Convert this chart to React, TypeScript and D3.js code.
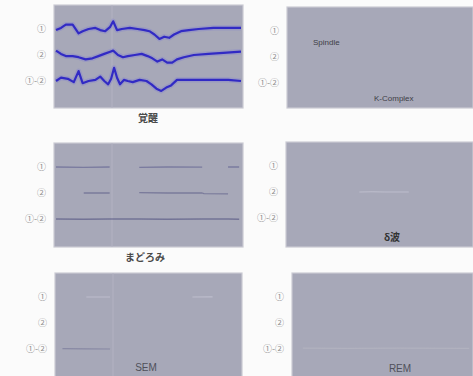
import React from 'react';
import * as d3 from 'd3';

// lane labels (electrode derivations)
const lanes = ['①', '②', '①-②'];

// panel titles / notes
const titles = ['覚醒', 'まどろみ', 'δ波', 'SEM', 'REM'];

// time (s) and amplitude (µV)
const awakeT1 = [0, 0.27, 0.53, 0.9, 1.22, 1.44, 1.76, 2.13, 2.39, 2.66, 2.93, 3.09, 3.3, 3.56, 3.99, 4.41, 4.79, 5.05, 5.32, 5.59, 5.85, 6.12, 6.38, 6.76, 7.18, 7.71, 8.51, 9.31, 10];
const awakeV1 = [-5, 5, 20, 20, -20, -10, 0, 5, -5, -10, 10, 35, -5, 0, 5, 0, -5, -10, -25, -45, -35, -40, -25, -10, -5, 0, 5, 5, 5];

const awakeT2 = [0, 0.27, 0.53, 0.9, 1.22, 1.6, 1.97, 2.29, 2.61, 2.93, 3.09, 3.35, 3.62, 3.88, 4.26, 4.63, 4.95, 5.21, 5.48, 5.74, 6.01, 6.28, 6.54, 6.91, 7.45, 8.24, 9.04, 10];
const awakeV2 = [20, 5, -5, -5, -10, -20, -15, -5, 5, 15, 20, 0, -10, -5, 0, 5, -5, -15, -30, -20, -35, -35, -20, -10, 0, 5, 10, 15];

const awakeT3 = [0, 0.27, 0.64, 0.96, 1.22, 1.44, 1.76, 2.13, 2.39, 2.61, 2.82, 2.98, 3.14, 3.3, 3.46, 3.67, 3.88, 4.15, 4.52, 4.89, 5.16, 5.43, 5.69, 5.96, 6.22, 6.54, 7.18, 8.24, 9.31, 10];
const awakeV3 = [0, 15, 10, -5, 45, -10, 0, 5, 20, 0, -15, 10, 60, 15, -15, 5, 0, -5, 5, 0, -15, -35, -45, -30, -20, 5, 5, 5, 5, 0];

// drowsy panel: nearly flat traces with gaps (null = not visible)
const drowsyT = [0, 1.5, 2.9, 3.0, 4.5, 6.0, 7.9, 8.0, 9.3, 9.9];
const drowsyV1 = [0, -2, 0, null, -2, 0, -1, null, 0, 0];
const drowsyV2 = [null, 0, 0, null, 2, 0, 0, -3, -4, null];
const drowsyV3 = [0, -1, 0, 0, 0, -1, 0, 0, 0, -1];

// delta panel: faint fragment on lane ②
const deltaT = [3.9, 4.6, 5.3, 6.6];
const deltaV = [0, 1, 0, 0];

// SEM panel: faint fragments
const semT = [0.3, 1.6, 2.9, 3.0, 7.4, 8.5];
const semV1 = [null, 0, 0, null, 0, 1];
const semV3 = [2, 1, 0, null, null, null];

// REM panel: faint fragment on lane ①-②
const remT = [0.5, 3, 6, 9.9];
const remV3 = [4, 3, 4, 3];

type Trace = { t: number[]; v: (number | null)[]; lane: string; color: string; width: number; opacity: number };
type Panel = { x: number; y: number; w: number; h: number; traces: Trace[]; seam?: boolean };

const W = 473;
const H = 376;

const panels: Panel[] = [
  {
    x: 54, y: 5, w: 189, h: 103, seam: true,
    traces: [
      { t: awakeT1, v: awakeV1, lane: lanes[0], color: '#2b24c4', width: 2.2, opacity: 0.95 },
      { t: awakeT2, v: awakeV2, lane: lanes[1], color: '#2b24c4', width: 2.2, opacity: 0.95 },
      { t: awakeT3, v: awakeV3, lane: lanes[2], color: '#2b24c4', width: 2.2, opacity: 0.95 },
    ],
  },
  { x: 287, y: 7, w: 186, h: 101, traces: [] },
  {
    x: 54, y: 143, w: 189, h: 104, seam: true,
    traces: [
      { t: drowsyT, v: drowsyV1, lane: lanes[0], color: '#56568a', width: 1.3, opacity: 0.55 },
      { t: drowsyT, v: drowsyV2, lane: lanes[1], color: '#565684', width: 1.3, opacity: 0.55 },
      { t: drowsyT, v: drowsyV3, lane: lanes[2], color: '#50507e', width: 1.5, opacity: 0.6 },
    ],
  },
  {
    x: 286, y: 142, w: 187, h: 105,
    traces: [{ t: deltaT, v: deltaV, lane: lanes[1], color: '#c8c8d6', width: 1, opacity: 0.7 }],
  },
  {
    x: 55, y: 273, w: 187, h: 110, seam: true,
    traces: [
      { t: semT, v: semV1, lane: lanes[0], color: '#c8c8d6', width: 1.2, opacity: 0.7 },
      { t: semT, v: semV3, lane: lanes[2], color: '#6a6a90', width: 1.2, opacity: 0.5 },
    ],
  },
  {
    x: 292, y: 273, w: 181, h: 110,
    traces: [{ t: remT, v: remV3, lane: lanes[2], color: '#bcbcc6', width: 1, opacity: 0.6 }],
  },
];

const ampScale = d3.scaleLinear().domain([-50, 50]).range([11, -11]);

const cjk = '"Noto Sans CJK JP", "Noto Sans", sans-serif';

const PanelView = ({ p }: { p: Panel }) => {
  const x = d3.scaleLinear().domain([0, 10]).range([p.x + 2, p.x + p.w - 2]);
  const y = d3.scalePoint<string>().domain(lanes).range([p.y + 24, p.y + 76]);
  const labelX = p.x - 8;
  return (
    <g>
      <rect x={p.x} y={p.y} width={p.w} height={p.h} fill="#a7a8b8" stroke="#cacad3" strokeWidth={1.2} />
      {p.seam && (
        <line x1={p.x + 58} x2={p.x + 58} y1={p.y} y2={p.y + p.h} stroke="#b4b5c4" strokeWidth={1.5} opacity={0.6} />
      )}
      {lanes.map(l => (
        <text key={l} x={labelX} y={(y(l) ?? 0) + 3} textAnchor="end" fontSize={9} fill="#8e8e8e" fontFamily={cjk}>
          {l}
        </text>
      ))}
      {p.traces.map((tr, i) => {
        const base = y(tr.lane) ?? 0;
        const pts = tr.t.map((t, k) => [t, tr.v[k]] as [number, number | null]);
        const line = d3.line<[number, number | null]>()
          .defined(d => d[1] !== null)
          .x(d => x(d[0]))
          .y(d => base + ampScale(d[1] as number))
          .curve(d3.curveLinear);
        const d = line(pts) ?? '';
        return (
          <g key={i}>
            {tr.width > 2 && <path d={d} fill="none" stroke="#7b78d8" strokeWidth={tr.width + 3} opacity={0.3} strokeLinejoin="round" />}
            <path d={d} fill="none" stroke={tr.color} strokeWidth={tr.width} opacity={tr.opacity} strokeLinejoin="round" />
          </g>
        );
      })}
    </g>
  );
};

export default function App() {
  return (
    <svg width={W} height={H} style={{ position: 'absolute', left: 0, top: 0, background: '#fbfbfb' }}>
      <rect x={0} y={0} width={W} height={H} fill="#fbfbfb" />
      {panels.map((p, i) => <PanelView key={i} p={p} />)}
      {/* annotations */}
      <text x={313} y={45} fontSize={8} fill="#3e3e46" fontFamily="Arial, sans-serif">Spindle</text>
      <text x={374} y={101} fontSize={8} fill="#3e3e46" fontFamily="Arial, sans-serif">K-Complex</text>
      <text x={148} y={122} textAnchor="middle" fontSize={10} fontWeight={600} fill="#4a4a4a" fontFamily={cjk}>{titles[0]}</text>
      <text x={145} y={261} textAnchor="middle" fontSize={10} fontWeight={600} fill="#4a4a4a" fontFamily={cjk}>{titles[1]}</text>
      <text x={392} y={241} textAnchor="middle" fontSize={10} fontWeight="bold" fill="#333" fontFamily={cjk}>{titles[2]}</text>
      <text x={146} y={371} textAnchor="middle" fontSize={10} fill="#50505a" fontFamily="Arial, sans-serif">{titles[3]}</text>
      <text x={400} y={372} textAnchor="middle" fontSize={10} fill="#50505a" fontFamily="Arial, sans-serif">{titles[4]}</text>
    </svg>
  );
}
